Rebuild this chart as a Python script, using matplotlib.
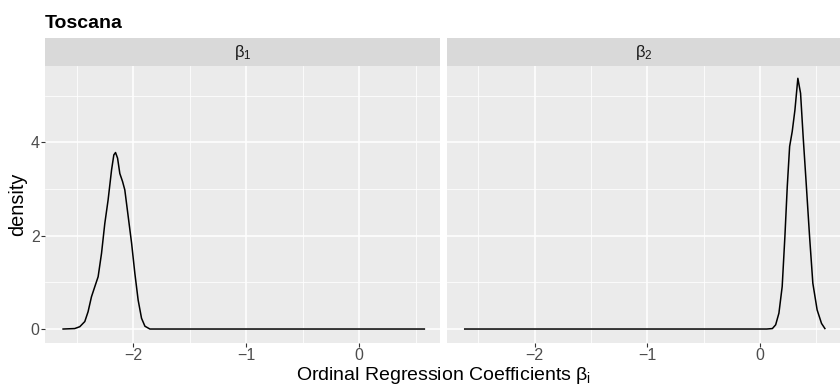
import matplotlib.pyplot as plt

plt.rcParams['font.family'] = ['Liberation Sans', 'DejaVu Sans']
plt.rcParams['mathtext.fontset'] = 'custom'
plt.rcParams['mathtext.rm'] = 'Liberation Sans'
plt.rcParams['mathtext.it'] = 'Liberation Sans'

title = 'Toscana'
facet_labels = [r'$\beta_1$', r'$\beta_2$']
x_label = r'Ordinal Regression Coefficients $\beta_\mathrm{i}$'
y_label = 'density'
x_ticks = [-2, -1, 0]
y_ticks = [0, 2, 4]

# posterior density of beta_1
b1_x = [-2.620, -2.517, -2.472, -2.428, -2.399, -2.369, -2.339, -2.310, -2.280,
        -2.251, -2.222, -2.191, -2.171, -2.156, -2.138, -2.118, -2.094, -2.074,
        -2.044, -2.014, -1.985, -1.956, -1.926, -1.896, -1.852, 0.576]
b1_y = [0.0, 0.01, 0.05, 0.16, 0.37, 0.69, 0.91, 1.12, 1.62,
        2.26, 2.76, 3.41, 3.73, 3.78, 3.66, 3.33, 3.16, 2.98,
        2.41, 1.84, 1.19, 0.62, 0.23, 0.06, 0.0, 0.0]

# posterior density of beta_2
b2_x = [-2.620, 0.060, 0.110, 0.139, 0.168, 0.197, 0.221, 0.242, 0.263, 0.286,
        0.310, 0.336, 0.360, 0.383, 0.410, 0.440, 0.469, 0.507, 0.546, 0.576]
b2_y = [0.0, 0.0, 0.01, 0.09, 0.34, 0.91, 1.98, 3.05, 3.91, 4.23,
        4.69, 5.37, 5.05, 4.12, 3.12, 1.98, 0.98, 0.41, 0.12, 0.01]

W, H = 840, 387
fig = plt.figure(figsize=(W / 100, H / 100), dpi=100)


def box(x0, y0, x1, y1):
    return [x0 / W, 1 - y1 / H, (x1 - x0) / W, (y1 - y0) / H]


panels = [(45, 439.5), (446.7, 840)]
curves = [(b1_x, b1_y), (b2_x, b2_y)]

for i, ((x0, x1), (cx, cy)) in enumerate(zip(panels, curves)):
    ax = fig.add_axes(box(x0, 65.7, x1, 342.7))
    ax.set_facecolor('#EBEBEB')
    ax.plot(cx, cy, color='black', lw=1.1, solid_joinstyle='round')
    ax.set_xlim(-2.78, 0.71)
    ax.set_ylim(-0.293, 5.64)
    ax.set_xticks(x_ticks)
    ax.set_xticks([-2.5, -1.5, -0.5, 0.5], minor=True)
    ax.set_yticks(y_ticks)
    ax.set_yticks([1, 3, 5], minor=True)
    ax.grid(which='major', color='white', lw=1.1)
    ax.grid(which='minor', color='white', lw=0.55)
    ax.set_axisbelow(True)
    for s in ax.spines.values():
        s.set_visible(False)
    ax.tick_params(which='major', length=2.6, width=0.8, color='#333333',
                   labelcolor='#4D4D4D', labelsize=11.5, pad=1.2)
    ax.tick_params(which='minor', length=0)
    if i > 0:
        ax.tick_params(axis='y', left=False, labelleft=False)

    strip = fig.add_axes(box(x0, 38.3, x1, 65.7))
    strip.set_facecolor('#D9D9D9')
    strip.set_xticks([])
    strip.set_yticks([])
    for s in strip.spines.values():
        s.set_visible(False)
    strip.text(0.5, 0.5, facet_labels[i], ha='center', va='center',
               fontsize=12, color='#1A1A1A', transform=strip.transAxes)

fig.text(45 / W, 1 - 28.3 / H, title, fontsize=14, fontweight='bold',
         va='baseline', ha='left')
fig.text(18 / W, 1 - 204.2 / H, y_label, rotation=90, fontsize=14.3,
         ha='center', va='center')
fig.text(443 / W, 1 - 380 / H, x_label, fontsize=14, ha='center',
         va='baseline')

fig.savefig('out.png', dpi=100)
